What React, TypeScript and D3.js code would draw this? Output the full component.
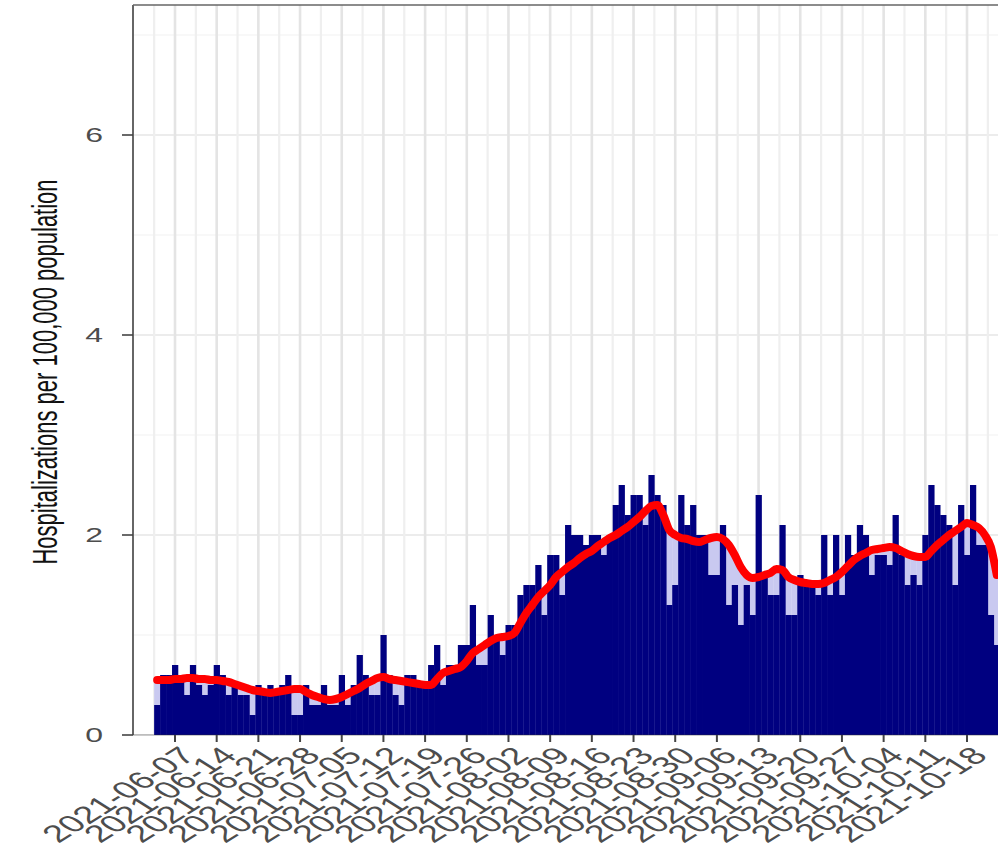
import React from 'react';
import * as d3 from 'd3';

// ---- data ----
const startDate = '2021-06-04';

const dailyRate = [
  0.3, 0.6, 0.6, 0.7, 0.6, 0.4, 0.7, 0.5, 0.4, 0.5,
  0.7, 0.6, 0.4, 0.5, 0.4, 0.4, 0.2, 0.5, 0.4, 0.5,
  0.4, 0.5, 0.6, 0.2, 0.2, 0.5, 0.3, 0.3, 0.5, 0.3,
  0.3, 0.6, 0.3, 0.5, 0.8, 0.6, 0.4, 0.4, 1.0, 0.6,
  0.4, 0.3, 0.6, 0.6, 0.5, 0.5, 0.7, 0.9, 0.5, 0.7,
  0.7, 0.9, 0.9, 1.3, 0.7, 0.7, 1.2, 1.0, 0.8, 1.1,
  1.1, 1.4, 1.5, 1.5, 1.7, 1.2, 1.8, 1.8, 1.4, 2.1,
  2.0, 2.0, 1.9, 2.0, 2.0, 1.8, 2.0, 2.3, 2.5, 2.2,
  2.4, 2.4, 2.1, 2.6, 2.4, 2.3, 1.3, 1.5, 2.4, 2.1,
  2.3, 2.0, 2.0, 1.6, 1.6, 2.1, 1.3, 1.5, 1.1, 1.5,
  1.2, 2.4, 1.6, 1.4, 1.4, 2.1, 1.2, 1.2, 1.6, 1.5,
  1.5, 1.4, 2.0, 1.4, 2.0, 1.4, 2.0, 1.8, 2.1, 2.0,
  1.6, 1.8, 1.8, 1.7, 2.2, 1.8, 1.5, 1.6, 1.5, 2.0,
  2.5, 2.3, 2.2, 2.1, 1.5, 2.3, 1.8, 2.5, 1.9, 1.9,
  1.2, 0.9,
];

const rollingAvg = [
  0.55, 0.55, 0.55, 0.56, 0.56, 0.57, 0.57,
  0.56, 0.56, 0.55, 0.55, 0.54, 0.53,
  0.51, 0.49, 0.47, 0.45, 0.44, 0.43, 0.42,
  0.43, 0.44, 0.45, 0.46, 0.46,
  0.43, 0.40, 0.38, 0.36, 0.35,
  0.36, 0.38, 0.41, 0.44, 0.47,
  0.51, 0.54, 0.57, 0.58, 0.56, 0.55,
  0.54, 0.53, 0.52, 0.51, 0.50, 0.50,
  0.56, 0.62, 0.64, 0.66, 0.68, 0.74,
  0.82, 0.86, 0.90, 0.94, 0.97, 0.98,
  0.99, 1.02, 1.12, 1.22, 1.30, 1.38,
  1.44, 1.50, 1.58, 1.63, 1.68, 1.72,
  1.77, 1.81, 1.84, 1.89, 1.93, 1.97,
  2.00, 2.04, 2.08, 2.13, 2.18, 2.24,
  2.29, 2.30, 2.20, 2.05, 2.00, 1.97,
  1.96, 1.94, 1.93, 1.95, 1.97, 1.98,
  1.96, 1.90, 1.80, 1.68, 1.60, 1.57,
  1.58, 1.60, 1.62, 1.66, 1.65, 1.58,
  1.55, 1.53, 1.52, 1.51, 1.51, 1.52,
  1.55, 1.58, 1.63, 1.69, 1.75, 1.79,
  1.82, 1.85, 1.86, 1.87, 1.88, 1.87,
  1.84, 1.81, 1.79, 1.78, 1.78, 1.84,
  1.90, 1.95, 2.00, 2.04, 2.08, 2.12,
  2.10, 2.07, 2.00, 1.88, 1.60,
];

const xTickLabels = [
  '2021-06-07', '2021-06-14', '2021-06-21', '2021-06-28', '2021-07-05',
  '2021-07-12', '2021-07-19', '2021-07-26', '2021-08-02', '2021-08-09',
  '2021-08-16', '2021-08-23', '2021-08-30', '2021-09-06', '2021-09-13',
  '2021-09-20', '2021-09-27', '2021-10-04', '2021-10-11', '2021-10-18',
];
const yMajorTicks = [0, 2, 4, 6];
const yMinorTicks = [1, 3, 5, 7];
const yTitle = 'Hospitalizations per 100,000 population';

export default function App() {
  const W = 998;
  const H = 853;
  const panelLeft = 133;
  const panelTop = 5;
  const panelBottom = 735;
  const SX = 1.6; // horizontal stretch of the reference's text
  const font = '"Liberation Sans", Arial, Helvetica, sans-serif';

  const parse = d3.utcParse('%Y-%m-%d');
  const t0 = parse(startDate) as Date;
  const dates = dailyRate.map((_, i) => d3.utcDay.offset(t0, i));
  const tickDates = xTickLabels.map((s) => parse(s) as Date);

  const x = d3
    .scaleUtc()
    .domain([tickDates[0], tickDates[tickDates.length - 1]])
    .range([175, 967]);
  const y = d3.scaleLinear().domain([0, 7.3]).range([panelBottom, panelTop]);

  const dayW = x(d3.utcDay.offset(tickDates[0], 1)) - x(tickDates[0]);

  const minorX: Date[] = [];
  tickDates.forEach((d, i) => {
    minorX.push(d3.utcHour.offset(d, -84));
    if (i === tickDates.length - 1) minorX.push(d3.utcHour.offset(d, 84));
  });

  const line = d3
    .line<number>()
    .x((_, i) => x(dates[i]))
    .y((v) => y(v))
    .curve(d3.curveMonotoneX);

  return (
    <svg
      width={W}
      height={H}
      style={{ position: 'absolute', left: 0, top: 0, background: '#fff' }}
      fontFamily={font}
    >
      <defs>
        <clipPath id="panel">
          <rect x={panelLeft} y={panelTop} width={W - panelLeft} height={panelBottom - panelTop} />
        </clipPath>
      </defs>
      <rect x={0} y={0} width={W} height={H} fill="#fff" />
      <g clipPath="url(#panel)">
        {yMinorTicks.map((v) => (
          <line key={'ym' + v} x1={panelLeft} x2={W} y1={y(v)} y2={y(v)} stroke="#f2f2f2" strokeWidth={1.2} />
        ))}
        {yMajorTicks.map((v) => (
          <line key={'yM' + v} x1={panelLeft} x2={W} y1={y(v)} y2={y(v)} stroke="#e6e6e6" strokeWidth={1.5} />
        ))}
        {minorX.map((d, i) => (
          <line key={'xm' + i} x1={x(d)} x2={x(d)} y1={panelTop} y2={panelBottom} stroke="#efefef" strokeWidth={2.2} />
        ))}
        {tickDates.map((d, i) => (
          <line key={'xM' + i} x1={x(d)} x2={x(d)} y1={panelTop} y2={panelBottom} stroke="#e4e4e4" strokeWidth={2.6} />
        ))}
        {rollingAvg.map((v, i) => (
          <rect
            key={'p' + i}
            x={x(dates[i]) - dayW / 2}
            y={y(v)}
            width={dayW + 0.3}
            height={panelBottom - y(v)}
            fill="#c9c9f0"
          />
        ))}
        {dailyRate.map((v, i) => (
          <rect
            key={'b' + i}
            x={x(dates[i]) - dayW / 2}
            y={y(v)}
            width={dayW + 0.3}
            height={panelBottom - y(v)}
            fill="#000080"
          />
        ))}
        <path
          d={line(rollingAvg) || ''}
          fill="none"
          stroke="#ff0000"
          strokeWidth={8}
          strokeLinejoin="round"
          strokeLinecap="round"
        />
      </g>
      {/* panel border */}
      <line x1={panelLeft} x2={W} y1={panelTop} y2={panelTop} stroke="#666" strokeWidth={1.6} />
      <line x1={panelLeft} x2={panelLeft} y1={panelTop} y2={panelBottom} stroke="#666" strokeWidth={2} />
      <line x1={panelLeft} x2={W} y1={panelBottom} y2={panelBottom} stroke="#333" strokeWidth={1} opacity={0.5} />
      {/* y axis */}
      {yMajorTicks.map((v) => (
        <g key={'yt' + v}>
          <line x1={panelLeft - 11} x2={panelLeft} y1={y(v)} y2={y(v)} stroke="#444" strokeWidth={1.6} />
          <text
            transform={`translate(${panelLeft - 30},${y(v)}) scale(${SX},1)`}
            textAnchor="end"
            dominantBaseline="central"
            fontSize={20}
            fill="#4d4d4d"
          >
            {v}
          </text>
        </g>
      ))}
      <text
        transform={`translate(44,372) scale(${SX},1) rotate(-90)`}
        textAnchor="middle"
        dominantBaseline="central"
        fontSize={22}
        fill="#111"
      >
        {yTitle}
      </text>
      {/* x axis */}
      {tickDates.map((d, i) => (
        <g key={'xt' + i}>
          <line x1={x(d)} x2={x(d)} y1={panelBottom} y2={panelBottom + 7} stroke="#444" strokeWidth={2} />
          <text
            transform={`translate(${x(d) + 22},${panelBottom + 22}) scale(${SX},1) rotate(-45)`}
            textAnchor="end"
            fontSize={24}
            fill="#4d4d4d"
          >
            {xTickLabels[i]}
          </text>
        </g>
      ))}
    </svg>
  );
}
